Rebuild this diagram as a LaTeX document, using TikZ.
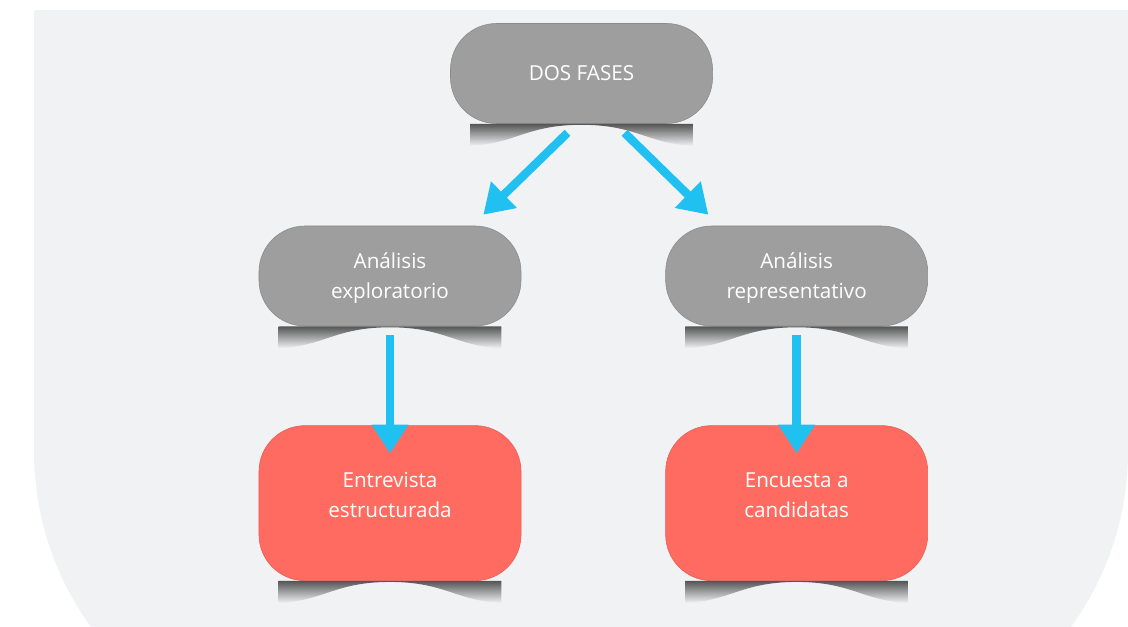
\documentclass[tikz,border=0pt]{standalone}
\usepackage{fontspec}
\setmainfont{Open Sans}
\usetikzlibrary{arrows.meta,positioning,calc}
\definecolor{PanelGray}{RGB}{241,242,244}
\definecolor{BoxGray}{RGB}{157,158,157}
\definecolor{BoxRed}{RGB}{255,106,97}
\definecolor{ArrowCyan}{RGB}{32,192,240}
\definecolor{ShadowGray}{RGB}{85,85,85}
\tikzset{
  phase/.style={draw=BoxGray!88!black,rounded corners=1.15cm,fill=BoxGray,text=white,
    minimum width=6.55cm,minimum height=2.5cm,align=center,text depth=0pt,
    font=\fontsize{14.7}{21.3}\selectfont},
  method/.style={phase,draw=BoxRed!90!black,fill=BoxRed,minimum height=3.875cm,
    text depth=12pt},
  arrow/.style={-{Triangle[length=0.72cm,width=0.88cm]},line width=0.21cm,ArrowCyan},
  curlshadow/.style={top color=ShadowGray,bottom color=PanelGray}
}

\begin{document}
\begin{tikzpicture}[x=0.025cm,y=-0.025cm,node distance=2.475cm]
  \useasboundingbox (0,0) rectangle (1128,626);
  \clip (0,0) rectangle (1128,626);
  \fill[white] (0,0) rectangle (1128,626);
  % panel
  \fill[PanelGray] (34,10) rectangle (1128,460);
  \fill[PanelGray,rounded corners=7.5cm] (34,140) rectangle (1128,751);

  \node[phase] (fases) at (581.5,73.5) {DOS FASES};
  \node[phase] (explor) at (390,276) {Análisis\\exploratorio};
  \node[phase,right=3.6cm of explor] (repres) {Análisis\\representativo};
  \node[method,below=of explor] (entrev) {Entrevista\\estructurada};
  \node[method,below=of repres] (encuesta) {Encuesta a\\candidatas};

  % shadows under the boxes
  \foreach \n in {fases,explor,repres,entrev,encuesta}
    \shade[curlshadow] ($(\n.south west)+(20,0)$) -- ($(\n.south east)+(-20,0)$) -- ++(0,22)
      .. controls +(-45,-2) and +(55,0) .. ($(\n.south)+(0,1)$)
      .. controls +(-55,0) and +(45,-2) .. ($(\n.south west)+(20,22)$) -- cycle;

  \draw[arrow] ($(fases.south)+(-14,9)$) -- ($(explor.north east)+(-38,-11)$);
  \draw[arrow] ($(fases.south)+(43,9)$) -- ($(repres.north west)+(43,-11)$);
  \draw[arrow,shorten <=0.225cm,shorten >=-0.7cm] (explor) -- (entrev);
  \draw[arrow,shorten <=0.225cm,shorten >=-0.7cm] (repres) -- (encuesta);
\end{tikzpicture}
\end{document}
